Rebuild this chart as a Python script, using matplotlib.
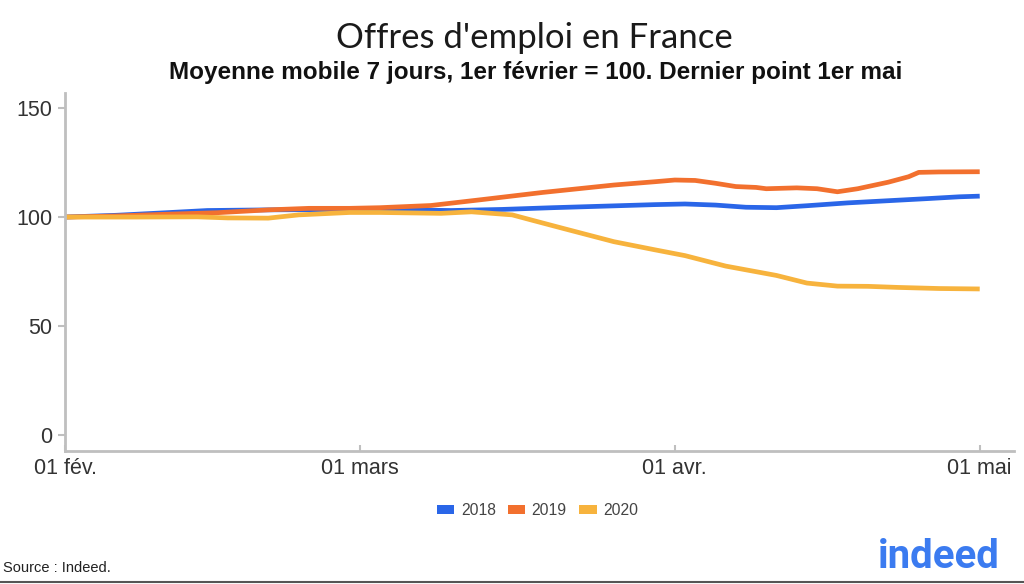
import matplotlib
matplotlib.use("Agg")
import matplotlib.pyplot as plt
from matplotlib.patches import Patch

# Days since 1 February
days_2018 = [0, 5, 10, 14, 20, 28, 33, 38, 43, 48, 53, 58, 61, 64, 67, 70, 73, 77, 81, 85, 88, 90]
vals_2018 = [100, 100.8, 102, 103, 103.3, 103.5, 103.3, 103, 103.5, 104.3, 105, 105.7, 106, 105.5,
             104.5, 104.3, 105.2, 106.5, 107.5, 108.5, 109.3, 109.6]

days_2019 = [0, 5, 10, 15, 20, 24, 28, 31, 36, 41, 47, 54, 58, 60, 62, 64, 66, 68, 69, 72, 74, 76,
             78, 81, 83, 84, 86, 90]
vals_2019 = [100, 100.5, 101.3, 102, 103.3, 104, 104, 104.3, 105.3, 108, 111.3, 114.7, 116.2, 117,
             116.8, 115.5, 114, 113.6, 113, 113.4, 113, 111.6, 113, 116, 118.5, 120.5, 120.7, 120.8]

days_2020 = [0, 7, 13, 16, 20, 23, 28, 31, 37, 40, 44, 46, 49, 54, 58, 61, 65, 70, 73, 76, 79, 82, 86, 90]
vals_2020 = [100, 100, 100.1, 99.6, 99.5, 101, 102.1, 102.1, 101.7, 102.4, 101, 98.5, 94.8, 88.7,
             85, 82.3, 77.5, 73.2, 69.7, 68.3, 68.2, 67.7, 67.2, 67]

series_labels = ["2018", "2019", "2020"]
colors = ["#2A66E8", "#F2702E", "#F7B33D"]

xtick_pos = [0, 29, 60, 90]
xtick_labels = ["01 fév.", "01 mars", "01 avr.", "01 mai"]
ytick_pos = [0, 50, 100, 150]

plt.rcParams['font.family'] = ['Liberation Sans', 'DejaVu Sans']

fig = plt.figure(figsize=(10.24, 5.84), dpi=100)
ax = fig.add_axes([0.0635, 0.228, 0.927, 0.613])

for d, v, c in zip([days_2018, days_2019, days_2020], [vals_2018, vals_2019, vals_2020], colors):
    ax.plot(d, v, color=c, lw=3.4, solid_capstyle='butt', solid_joinstyle='round')

ax.set_xlim(0, 93.4)
ax.set_ylim(-7.3, 157)
ax.set_xticks(xtick_pos)
ax.set_xticklabels(xtick_labels)
ax.set_yticks(ytick_pos)

for s in ['top', 'right']:
    ax.spines[s].set_visible(False)
for s in ['left', 'bottom']:
    ax.spines[s].set_color('#BFBFBF')
    ax.spines[s].set_linewidth(2)
ax.tick_params(axis='both', colors='#BFBFBF', labelcolor='#333333', labelsize=15.5, width=1.5)
ax.tick_params(axis='y', length=5, pad=4)
ax.tick_params(axis='x', length=4, direction='in', pad=5)

fig.text(0.522, 0.935, "Offres d'emploi en France", ha='center', va='center',
         fontsize=25, color='#1A1A1A', family=['Lato', 'Liberation Sans'])
fig.text(0.523, 0.875, "Moyenne mobile 7 jours, 1er février = 100. Dernier point 1er mai",
         ha='center', va='center', fontsize=17.5, fontweight='bold', color='#111111')

handles = [Patch(facecolor=c, edgecolor='none') for c in colors]
fig.legend(handles, series_labels, loc='center', bbox_to_anchor=(0.525, 0.126), ncol=3,
           frameon=False, fontsize=11.3, handlelength=1.1, handleheight=0.5,
           handletextpad=0.4, columnspacing=0.8, labelcolor='#444444')

fig.text(0.003, 0.027, "Source : Indeed.", ha='left', va='center', fontsize=10.5, color='#222222')
fig.text(0.917, 0.047, "indeed", ha='center', va='center', fontsize=29, fontweight='bold',
         color='#3B7BF0', family=['Roboto', 'Liberation Sans'])

fig.add_artist(plt.Line2D([0, 1], [0.003, 0.003], color='#555555', lw=1.5, transform=fig.transFigure))

fig.savefig("out.png", dpi=100, facecolor='white')
